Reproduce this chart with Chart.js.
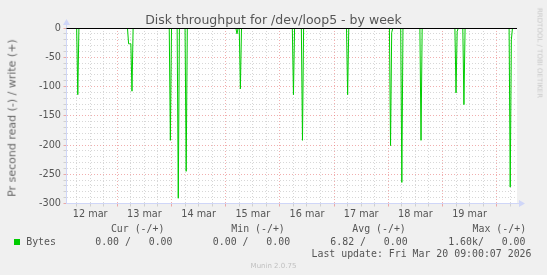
<!DOCTYPE html>
<html>
<head>
<meta charset="utf-8">
<script src="https://cdn.jsdelivr.net/npm/chart.js@4"></script>
<style>
html, body { margin: 0; padding: 0; background: #f0f0f0; }
#wrap { position: relative; width: 547px; height: 275px; overflow: hidden; font-family: "DejaVu Sans"; color: #666; }
canvas { position: absolute; left: 0; top: 0; }
.t { position: absolute; white-space: pre; line-height: 1; }
.mono { font-family: "DejaVu Sans Mono"; font-size: 9.9px; color: #555; }
</style>
</head>
<body>
<div id="wrap">
  <canvas id="myChart" width="547" height="275"></canvas>
</div>
<script>
// x axis is in hours since 12 mar 00:00
const xMin = 1.5
const xMax = 201
const dayLabels = ['12 mar', '13 mar', '14 mar', '15 mar', '16 mar', '17 mar', '18 mar', '19 mar']
// non-zero 30 min samples of the read rate (drawn negative), everything else is 0
const readHours = [6.5, 29.0, 29.5, 30.0, 30.5, 47.5, 51.0, 54.5, 77.0, 78.5, 102.0, 106.0, 126.0, 145.0, 145.5, 150.0, 158.5, 174.0, 174.5, 177.5, 198.0, 198.5]
const readValues = [-114, -27, -27, -27, -108, -192, -291, -245, -10, -104, -114, -192, -114, -201, -8, -264, -192, -111, -6, -131, -272, -20]
const legendHeads = ['Cur (-/+)', 'Min (-/+)', 'Avg (-/+)', 'Max (-/+)']
const legendValues = ['0.00 /   0.00', '0.00 /   0.00', '6.82 /   0.00', '1.60k/   0.00']
const lastUpdate = 'Last update: Fri Mar 20 09:00:07 2026'

const points = [{x: xMin, y: 0}]
readHours.forEach((h, i) => {
    if (readHours[i - 1] !== h - 0.5) points.push({x: h - 0.5, y: 0})
    points.push({x: h, y: readValues[i]})
    if (readHours[i + 1] !== h + 0.5) points.push({x: h + 0.5, y: 0})
})
points.push({x: xMax, y: 0})

const red = 'rgba(230, 110, 110, 0.55)'
const gray = 'rgba(175, 175, 175, 0.5)'
const axisColor = '#cfd6f8'

const muninBits = {
    id: 'muninBits',
    beforeDraw(chart) {
        const {ctx, chartArea: a} = chart
        ctx.save()
        ctx.fillStyle = '#fff'
        ctx.fillRect(a.left, a.top, a.right - a.left, a.bottom - a.top)
        ctx.restore()
    },
    afterDraw(chart) {
        const {ctx, chartArea: a, scales} = chart
        const y0 = Math.round(scales.y.getPixelForValue(0)) + 0.5
        ctx.save()
        ctx.strokeStyle = '#000'
        ctx.lineWidth = 1
        ctx.beginPath()
        ctx.moveTo(a.left, y0)
        ctx.lineTo(a.right, y0)
        ctx.stroke()
        // axis arrows
        const xl = Math.round(a.left - 0.5) + 0.5
        const yb = Math.round(a.bottom - 0.5) + 0.5
        ctx.strokeStyle = axisColor
        ctx.fillStyle = axisColor
        ctx.beginPath()
        ctx.moveTo(xl, a.top)
        ctx.lineTo(xl, a.top - 5)
        ctx.moveTo(a.right, yb)
        ctx.lineTo(a.right + 4, yb)
        ctx.stroke()
        ctx.beginPath()
        ctx.moveTo(xl - 3.5, a.top - 3)
        ctx.lineTo(xl + 3.5, a.top - 3)
        ctx.lineTo(xl, a.top - 9)
        ctx.closePath()
        ctx.fill()
        ctx.beginPath()
        ctx.moveTo(a.right + 2, yb - 3.5)
        ctx.lineTo(a.right + 2, yb + 3.5)
        ctx.lineTo(a.right + 8, yb)
        ctx.closePath()
        ctx.fill()
        ctx.restore()
    }
}

const tickFont = {family: 'DejaVu Sans', size: 9.7}

new Chart(document.getElementById('myChart'), {
    type: 'line',
    data: {
        datasets: [{
            label: 'Bytes',
            data: points,
            borderColor: '#00cc00',
            borderWidth: 1,
            pointRadius: 0,
            tension: 0,
            fill: false
        }]
    },
    options: {
        responsive: false,
        animation: false,
        layout: {padding: {top: 28, right: 30, left: 0, bottom: 0}},
        plugins: {legend: {display: false}, tooltip: {enabled: false}},
        scales: {
            x: {
                type: 'linear',
                min: xMin,
                max: xMax,
                afterBuildTicks: (s) => {
                    const t = []
                    for (let h = 6; h < xMax; h += 6) t.push({value: h})
                    s.ticks = t
                },
                afterFit: (s) => { s.height = 71.5 },
                grid: {
                    color: (c) => c.tick && c.tick.value % 24 === 0 ? red : gray,
                    tickColor: (c) => c.tick && c.tick.value % 24 === 0 ? red : gray,
                    tickLength: 3
                },
                border: {color: axisColor, dash: [1, 2]},
                ticks: {
                    autoSkip: false,
                    maxRotation: 0,
                    padding: 2,
                    color: '#555',
                    font: tickFont,
                    callback: (v) => v % 24 === 12 ? dayLabels[Math.floor(v / 24)] : ''
                }
            },
            y: {
                min: -300,
                max: 0,
                afterFit: (s) => { s.width = 66.5 },
                grid: {
                    color: (c) => c.tick && c.tick.value % 50 === 0 ? red : gray,
                    tickColor: (c) => c.tick && c.tick.value % 50 === 0 ? red : gray,
                    tickLength: 3
                },
                border: {color: axisColor, dash: [1, 2]},
                ticks: {
                    stepSize: 10,
                    autoSkip: false,
                    padding: 2.5,
                    color: '#555',
                    font: tickFont,
                    callback: (v) => v % 50 === 0 ? v : ''
                }
            }
        }
    },
    plugins: [muninBits]
})

// the texts around the graph
const wrap = document.getElementById('wrap')
function addText(txt, cls, style) {
    const d = document.createElement('div')
    d.className = 't ' + cls
    d.textContent = txt
    Object.assign(d.style, style)
    wrap.appendChild(d)
    return d
}
addText('Disk throughput for /dev/loop5 - by week', '', {left: '0px', width: '547px', textAlign: 'center', top: '13.8px', fontSize: '12.5px', color: '#555'})
addText('Pr second read (-) / write (+)', '', {left: '12px', top: '118px', fontSize: '11px', color: '#666', transform: 'translate(-50%, -50%) rotate(-90deg)'})
addText('RRDTOOL / TOBI OETIKER', '', {left: '538.5px', top: '53px', fontSize: '7px', color: '#c8c8c8', transform: 'translate(-50%, -50%) rotate(90deg)'})
const colX = [110.9, 231.3, 352.3, 472.6]
const valX = [95.2, 212.8, 330.3, 448.2]
legendHeads.forEach((h, i) => addText(h, 'mono', {left: colX[i] + 'px', top: '223.8px'}))
legendValues.forEach((v, i) => addText(v, 'mono', {left: valX[i] + 'px', top: '236.7px'}))
addText('Bytes', 'mono', {left: '26.2px', top: '236.7px'})
addText(lastUpdate, 'mono', {left: '311.5px', top: '249.2px'})
addText('Munin 2.0.75', '', {left: '0px', width: '547px', textAlign: 'center', top: '262.9px', fontSize: '7px', color: '#c0c0c0'})
const sq = document.createElement('div')
Object.assign(sq.style, {position: 'absolute', left: '14px', top: '238.5px', width: '6px', height: '6px', background: '#00cc00'})
wrap.appendChild(sq)
</script>
</body>
</html>
